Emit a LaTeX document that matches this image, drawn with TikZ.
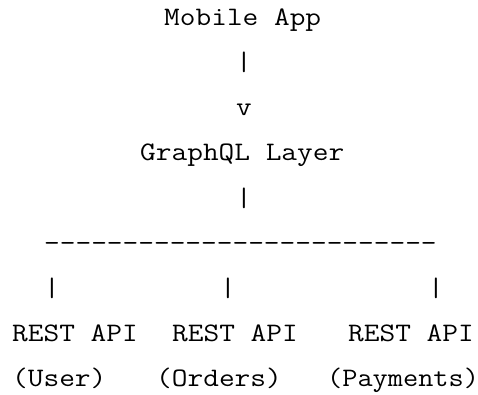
\documentclass[tikz,border=0pt]{standalone}
\usepackage{fontspec}
\usepackage{tikz}
\usetikzlibrary{positioning}
% typewriter text on a 16pt character grid
\tikzstyle{line} = [anchor=base west, inner sep=0pt, font=\ttfamily\fontsize{26.67}{45}\selectfont]
\newcommand{\wide}[1]{\scalebox{1.143}[1]{#1}}

\begin{document}
\begin{tikzpicture}[x=1pt,y=1pt]
        \useasboundingbox (0,0) rectangle (478,-395);
        \node[line] (app) at (164,-26) {\wide{Mobile App}};
        \node[line] (bar1) at (236,-71) {\wide{|}};
        \node[line] (tip) at (236,-116) {\wide{v}};
        \node[line] (gql) at (140,-161) {\wide{GraphQL Layer}};
        \node[line] (bar2) at (236,-206) {\wide{|}};
        \node[line] (split) at (44,-251) {\wide{\foreach \i in {1,...,25}{-}}};
        \node[line] (bar3) at (44,-296) {\wide{|}};
        \node[line] (bar4) at (220,-296) {\wide{|}};
        \node[line] (bar5) at (428,-296) {\wide{|}};
        \node[line] (rest1) at (12,-341) {\wide{REST API}};
        \node[line] (rest2) at (172,-341) {\wide{REST API}};
        \node[line] (rest3) at (348,-341) {\wide{REST API}};
        \node[line] (user) at (12,-386) {\wide{(User)}};
        \node[line] (orders) at (156,-386) {\wide{(Orders)}};
        \node[line] (pay) at (327,-386) {\scalebox{1.105}[1]{(Payments)}};
    \end{tikzpicture}
\end{document}
